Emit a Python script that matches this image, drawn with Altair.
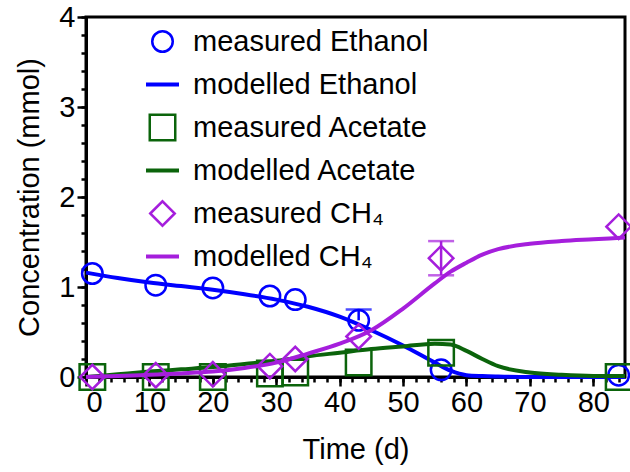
import altair as alt
import pandas as pd

# measured data
times = [1, 11, 20, 29, 33, 43, 56, 84]
ethanol = [1.15, 1.02, 0.99, 0.90, 0.86, 0.63, 0.08, 0.02]
acetate = [0.0, 0.0, 0.0, 0.04, 0.05, 0.16, 0.27, 0.0]
methane = [0.0, 0.02, 0.03, 0.12, 0.20, 0.45, 1.32, 1.67]

# error bars
eth_err_t = [43]
eth_err_lo = [0.63]
eth_err_hi = [0.75]
ch4_err_t = [56]
ch4_err_lo = [1.13]
ch4_err_hi = [1.51]

# modelled curves
model_t = [0, 5, 10, 15, 20, 25, 30, 35, 40, 45, 50, 55, 57.5, 60, 62.5, 65, 70, 75, 80, 85]
eth_model = [1.16, 1.10, 1.05, 1.01, 0.97, 0.92, 0.86, 0.78, 0.67, 0.52, 0.35, 0.16, 0.07, 0.02, 0.01, 0.005, 0.0, 0.0, 0.0, 0.0]
ace_model = [0.0, 0.03, 0.06, 0.085, 0.11, 0.145, 0.18, 0.23, 0.27, 0.31, 0.34, 0.37, 0.36, 0.29, 0.2, 0.12, 0.05, 0.025, 0.012, 0.01]
ch4_model = [0.0, 0.01, 0.025, 0.04, 0.06, 0.1, 0.16, 0.26, 0.37, 0.52, 0.76, 1.04, 1.17, 1.27, 1.36, 1.42, 1.48, 1.51, 1.53, 1.55]

labels = ["measured Ethanol", "modelled Ethanol", "measured Acetate",
          "modelled Acetate", "measured CH\u2084", "modelled CH\u2084"]
BLUE, GREEN, PURPLE = "#0000FF", "#0B640B", "#A51EDC"
colors = [BLUE, BLUE, GREEN, GREEN, PURPLE, PURPLE]
shapes = ["circle", "stroke", "square", "stroke", "diamond", "stroke"]
sizes = [420, 1089, 650, 1089, 600, 1089]
widths = [2.5, 4, 2.5, 4, 2.5, 4]

x_major = [0, 10, 20, 30, 40, 50, 60, 70, 80]
x_minor = list(range(0, 86, 2))
y_major = [0, 1, 2, 3, 4]
y_minor = [round(i * 0.2, 1) for i in range(21)]

FONT = "Liberation Sans"
FS = 29

xscale = alt.Scale(domain=[0, 85], nice=False, zero=False)
yscale = alt.Scale(domain=[0, 4], nice=False)

x_axis_major = alt.Axis(values=x_major, format="d", tickSize=9, labelOverlap=False,
                        grid=False, labelPadding=2, titlePadding=18, orient="bottom")
y_axis_major = alt.Axis(values=y_major, format="d", tickSize=9, labelOverlap=False,
                        grid=False, labelPadding=2, titlePadding=14, orient="left")
x_axis_minor = alt.Axis(values=x_minor, tickSize=5, labels=False, domain=False,
                        grid=False, title=None, orient="bottom")
y_axis_minor = alt.Axis(values=y_minor, tickSize=5, labels=False, domain=False,
                        grid=False, title=None, orient="left")

legend = alt.Legend(
    title=None, orient="none", legendX=58, legendY=3, padding=0,
    clipHeight=43, rowPadding=0, labelFont=FONT, labelFontSize=FS,
    labelColor="black", labelOffset=12, labelLimit=0, symbolOpacity=1,
)


def points(values, idx, with_axis=False):
    df = pd.DataFrame({"t": times, "v": values, "label": labels[idx]})
    return alt.Chart(df).mark_point(filled=False, opacity=1).encode(
        x=alt.X("t:Q", scale=xscale, axis=x_axis_major if with_axis else None, title="Time (d)"),
        y=alt.Y("v:Q", scale=yscale, axis=y_axis_major if with_axis else None, title="Concentration (mmol)"),
        color=alt.Color("label:N", scale=alt.Scale(domain=labels, range=colors), legend=legend),
        shape=alt.Shape("label:N", scale=alt.Scale(domain=labels, range=shapes), legend=legend),
        size=alt.Size("label:N", scale=alt.Scale(type="ordinal", domain=labels, range=sizes), legend=legend),
        strokeWidth=alt.StrokeWidth("label:N", scale=alt.Scale(type="ordinal", domain=labels, range=widths), legend=legend),
    )


def model_line(values, color, with_axis=False):
    df = pd.DataFrame({"t": model_t, "v": values})
    return alt.Chart(df).mark_line(color=color, strokeWidth=4, interpolate="monotone").encode(
        x=alt.X("t:Q", scale=xscale, axis=x_axis_minor if with_axis else None),
        y=alt.Y("v:Q", scale=yscale, axis=y_axis_minor if with_axis else None),
    )


def err_rule(t, lo, hi, color):
    df = pd.DataFrame({"t": t, "lo": lo, "hi": hi})
    return alt.Chart(df).mark_rule(color=color, strokeWidth=2.5).encode(
        x=alt.X("t:Q", scale=xscale, axis=None),
        y=alt.Y("lo:Q", scale=yscale, axis=None), y2="hi:Q"
    )


def err_cap(t, vals, color):
    df = pd.DataFrame({"t": t, "c": vals})
    return alt.Chart(df).mark_tick(color=color, orient="horizontal", size=26, thickness=2.5).encode(
        x=alt.X("t:Q", scale=xscale, axis=None), y=alt.Y("c:Q", scale=yscale, axis=None)
    )


chart = alt.layer(
    points(ethanol, 0, with_axis=True),
    err_rule(eth_err_t, eth_err_lo, eth_err_hi, BLUE),
    err_cap(eth_err_t, eth_err_hi, BLUE),
    model_line(eth_model, BLUE, with_axis=True),
    points(acetate, 2),
    model_line(ace_model, GREEN),
    points(methane, 4),
    err_rule(ch4_err_t, ch4_err_lo, ch4_err_hi, PURPLE),
    err_cap(ch4_err_t, ch4_err_hi, PURPLE),
    err_cap(ch4_err_t, ch4_err_lo, PURPLE),
    model_line(ch4_model, PURPLE),
).resolve_axis(
    x="independent", y="independent"
).properties(
    width=539, height=360,
    autosize=alt.AutoSizeParams(type="none"),
    padding={"left": 86, "top": 17, "right": 5, "bottom": 95},
    background="white",
).configure_view(
    stroke="black", strokeWidth=3
).configure_axis(
    domainColor="black", domainWidth=3, tickColor="black", tickWidth=2.5,
    labelFont=FONT, labelFontSize=FS, labelColor="black",
    titleFont=FONT, titleFontSize=FS, titleFontWeight="normal", titleColor="black",
)

chart.save("out.html", embed_options={"renderer": "svg", "actions": False})
